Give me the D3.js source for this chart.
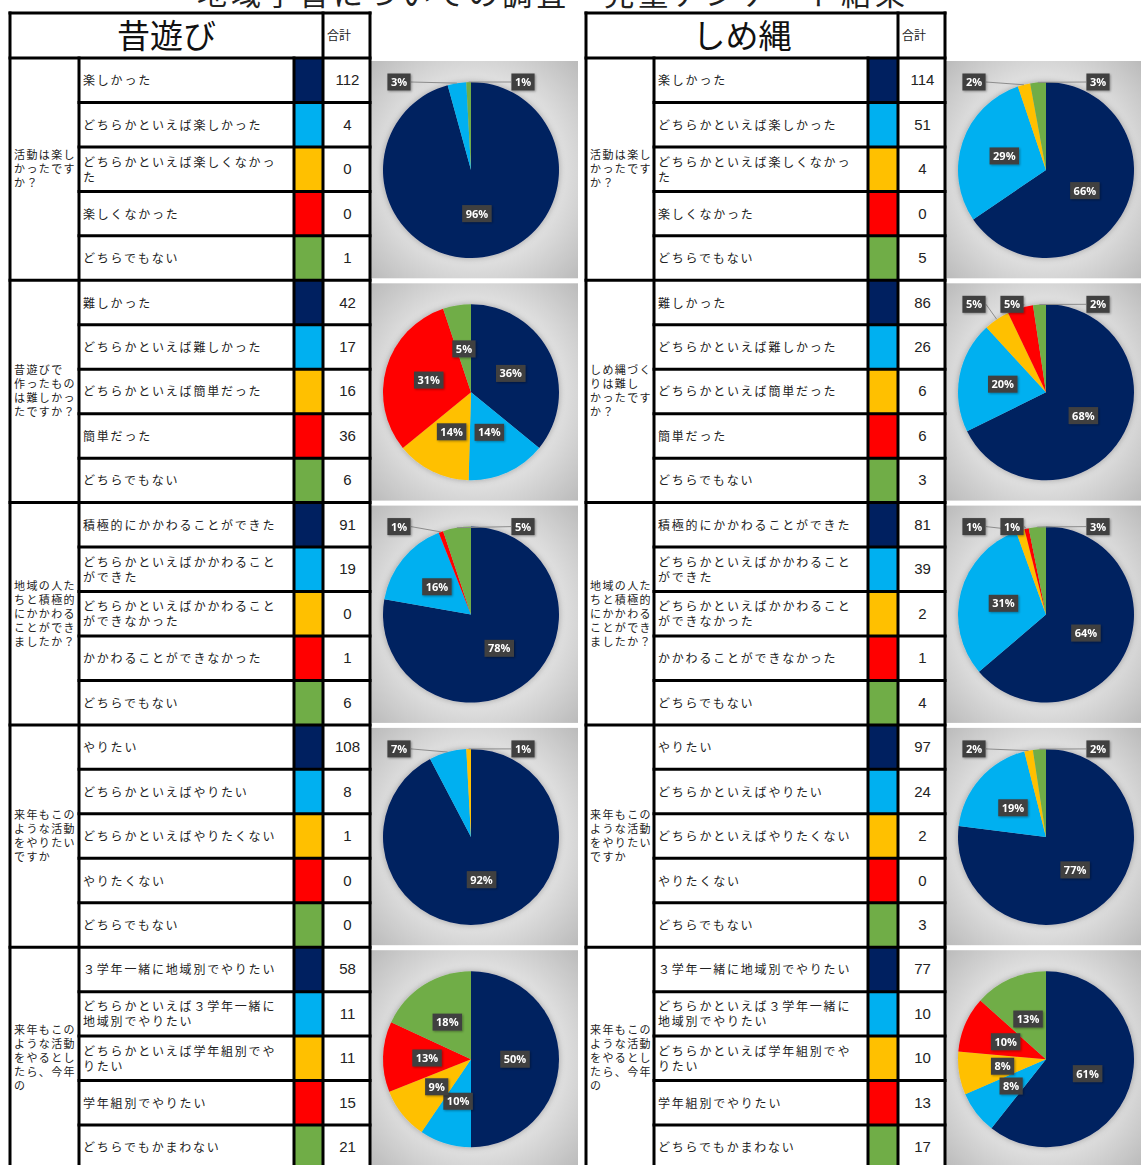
<!DOCTYPE html>
<html>
<head>
<meta charset="utf-8">
<script src="https://cdn.jsdelivr.net/npm/d3@7"></script>
<style>
  body { margin: 0; background: #fff; }
  svg { display: block; }
</style>
</head>
<body>
<div id="chart"></div>
<script>
// ---- data ----
const pageTitle = "地域学習についての調査・児童アンケート結果";
const sideTitles = ["昔遊び", "しめ縄"];
const totalHeader = "合計";
const sliceColors = ["#002060", "#00b0f0", "#ffc000", "#ff0000", "#70ad47"];

const leftQuestions = [
  "活動は楽し\nかったです\nか？",
  "昔遊びで\n作ったもの\nは難しかっ\nたですか？",
  "地域の人た\nちと積極的\nにかかわる\nことができ\nましたか？",
  "来年もこの\nような活動\nをやりたい\nですか",
  "来年もこの\nような活動\nをやるとし\nたら、今年\nの"
];
const rightQuestions = [
  "活動は楽し\nかったです\nか？",
  "しめ縄づく\nりは難し\nかったです\nか？",
  "地域の人た\nちと積極的\nにかかわる\nことができ\nましたか？",
  "来年もこの\nような活動\nをやりたい\nですか",
  "来年もこの\nような活動\nをやるとし\nたら、今年\nの"
];

const answersEnjoy = ["楽しかった", "どちらかといえば楽しかった", "どちらかといえば楽しくなかった", "楽しくなかった", "どちらでもない"];
const answersHard = ["難しかった", "どちらかといえば難しかった", "どちらかといえば簡単だった", "簡単だった", "どちらでもない"];
const answersInvolve = ["積極的にかかわることができた", "どちらかといえばかかわることができた", "どちらかといえばかかわることができなかった", "かかわることができなかった", "どちらでもない"];
const answersAgain = ["やりたい", "どちらかといえばやりたい", "どちらかといえばやりたくない", "やりたくない", "どちらでもない"];
const answersHow = ["３学年一緒に地域別でやりたい", "どちらかといえば３学年一緒に地域別でやりたい", "どちらかといえば学年組別でやりたい", "学年組別でやりたい", "どちらでもかまわない"];
const answerSets = [answersEnjoy, answersHard, answersInvolve, answersAgain, answersHow];

const leftValues = [
  [112, 4, 0, 0, 1],
  [42, 17, 16, 36, 6],
  [91, 19, 0, 1, 6],
  [108, 8, 1, 0, 0],
  [58, 11, 11, 15, 21]
];
const rightValues = [
  [114, 51, 4, 0, 5],
  [86, 26, 6, 6, 3],
  [81, 39, 2, 1, 4],
  [97, 24, 2, 0, 3],
  [77, 10, 10, 13, 17]
];
// percentages as printed on the pies
const leftPctLabels = [
  ["96%", "3%", "", "", "1%"],
  ["36%", "14%", "14%", "31%", "5%"],
  ["78%", "16%", "", "1%", "5%"],
  ["92%", "7%", "1%", "", ""],
  ["50%", "10%", "9%", "13%", "18%"]
];
const rightPctLabels = [
  ["66%", "29%", "2%", "", "3%"],
  ["68%", "20%", "5%", "5%", "2%"],
  ["64%", "31%", "1%", "1%", "3%"],
  ["77%", "19%", "2%", "", "2%"],
  ["61%", "8%", "8%", "10%", "13%"]
];

// ---- layout ----
const width = 1141, height = 1165;
const headerTop = 13, headerBottom = 58, groupH = 222.3;
const jp = "'Noto Sans CJK JP', 'Noto Sans', sans-serif";
const numFont = "'Liberation Sans Narrow', 'Liberation Sans', 'DejaVu Sans Condensed', sans-serif";

let svg = d3.select("#chart")
    .append("svg")
    .attr("width", width)
    .attr("height", height);

let defs = svg.append("defs");
let grad = defs.append("radialGradient").attr("id", "panelBg")
    .attr("cx", "50%").attr("cy", "50%").attr("r", "72%");
grad.append("stop").attr("offset", "0%").attr("stop-color", "#f4f4f4");
grad.append("stop").attr("offset", "55%").attr("stop-color", "#e3e3e3");
grad.append("stop").attr("offset", "100%").attr("stop-color", "#b9b9b9");

let shadow = defs.append("filter").attr("id", "pieShadow")
    .attr("x", "-20%").attr("y", "-20%").attr("width", "140%").attr("height", "140%");
shadow.append("feDropShadow").attr("dx", 0).attr("dy", 0)
    .attr("stdDeviation", 3).attr("flood-color", "#000").attr("flood-opacity", 0.3);

let labelShadow = defs.append("filter").attr("id", "lblShadow")
    .attr("x", "-30%").attr("y", "-30%").attr("width", "160%").attr("height", "160%");
labelShadow.append("feDropShadow").attr("dx", 1).attr("dy", 1)
    .attr("stdDeviation", 1).attr("flood-color", "#000").attr("flood-opacity", 0.35);

svg.append("text")
    .attr("x", 553)
    .attr("y", 5)
    .attr("text-anchor", "middle")
    .style("font-family", jp)
    .style("font-size", "30px")
    .style("letter-spacing", "4px")
    .attr("fill", "#222")
    .text(pageTitle);

const sides = [
  { x0: 10, qx: 79, sx: 294, vx: 323, x1: 370, panelX: 371, panelW: 207,
    title: sideTitles[0], questions: leftQuestions, values: leftValues, pct: leftPctLabels },
  { x0: 586, qx: 654, sx: 868, vx: 898, x1: 945, panelX: 946, panelW: 195,
    title: sideTitles[1], questions: rightQuestions, values: rightValues, pct: rightPctLabels }
];

let groupY = d3.scaleLinear().domain([0, 5]).range([headerBottom, headerBottom + 5 * groupH]);
let rowY = d3.scaleLinear().domain([0, 5]).range([0, groupH]);

function wrapChars(str, n) {
  let out = [];
  for (let i = 0; i < str.length; i += n) out.push(str.slice(i, i + n));
  return out;
}

sides.forEach(side => drawSide(side));

function drawSide(side) {
  let g = svg.append("g");

  // pie panels
  side.values.forEach((vals, gi) => {
    let top = groupY(gi);
    let panel = g.append("g");
    panel.append("rect")
        .attr("x", side.panelX)
        .attr("y", top + 3)
        .attr("width", side.panelW)
        .attr("height", groupH - 5)
        .attr("fill", "url(#panelBg)");
    drawPie(panel, vals, side.pct[gi], side.panelX + 100, top + 112, 88, top + 3);
  });

  // header
  g.append("text")
      .attr("x", (side.x0 + side.vx) / 2)
      .attr("y", 48)
      .attr("text-anchor", "middle")
      .style("font-family", jp)
      .style("font-size", "33px")
      .attr("fill", "#111")
      .text(side.title);
  g.append("text")
      .attr("x", side.vx + 4)
      .attr("y", 40)
      .style("font-family", jp)
      .style("font-size", "12px")
      .attr("fill", "#222")
      .text(totalHeader);

  // rows
  side.values.forEach((vals, gi) => {
    let top = groupY(gi);
    let qLines = side.questions[gi].split("\n");
    let qMid = top + groupH / 2;
    g.append("text")
        .attr("x", side.x0 + 4)
        .attr("y", qMid - (qLines.length - 1) * 7 + 4)
        .style("font-family", jp)
        .style("font-size", "11px")
        .style("letter-spacing", "1.4px")
        .attr("fill", "#222")
        .selectAll("tspan")
        .data(qLines)
        .enter()
        .append("tspan")
        .attr("x", side.x0 + 4)
        .attr("dy", (d, i) => i === 0 ? 0 : 14)
        .text(d => d);

    vals.forEach((v, ri) => {
      let y0 = top + rowY(ri), y1 = top + rowY(ri + 1);
      let mid = (y0 + y1) / 2;
      g.append("rect")
          .attr("x", side.sx)
          .attr("y", y0)
          .attr("width", side.vx - side.sx)
          .attr("height", y1 - y0)
          .attr("fill", sliceColors[ri]);

      let lines = wrapChars(answerSets[gi][ri], 14);
      g.append("text")
          .attr("x", side.qx + 4)
          .attr("y", mid - (lines.length - 1) * 7.5 + 5)
          .style("font-family", jp)
          .style("font-size", "12px")
          .style("letter-spacing", "1.8px")
          .attr("fill", "#222")
          .selectAll("tspan")
          .data(lines)
          .enter()
          .append("tspan")
          .attr("x", side.qx + 4)
          .attr("dy", (d, i) => i === 0 ? 0 : 15)
          .text(d => d);

      g.append("text")
          .attr("x", (side.vx + side.x1) / 2 + 1)
          .attr("y", mid + 5)
          .attr("text-anchor", "middle")
          .style("font-family", numFont)
          .style("font-size", "15px")
          .attr("fill", "#222")
          .text(v);
    });
  });

  // grid lines
  let bottom = height + 10;
  let lines = [];
  lines.push([side.x0, headerTop, side.x1, headerTop]);
  lines.push([side.x0, headerTop, side.x0, bottom]);
  lines.push([side.x1, headerTop, side.x1, bottom]);
  lines.push([side.vx, headerTop, side.vx, bottom]);
  lines.push([side.qx, headerBottom, side.qx, bottom]);
  lines.push([side.sx, headerBottom, side.sx, bottom]);
  for (let gi = 0; gi < 5; gi++) {
    let top = groupY(gi);
    lines.push([side.x0, top, side.x1, top]);
    for (let ri = 1; ri < 5; ri++) {
      lines.push([side.qx, top + rowY(ri), side.x1, top + rowY(ri)]);
    }
  }
  g.selectAll("line.grid")
      .data(lines)
      .enter()
      .append("line")
      .attr("class", "grid")
      .attr("x1", d => d[0]).attr("y1", d => d[1])
      .attr("x2", d => d[2]).attr("y2", d => d[3])
      .attr("stroke", "#000")
      .attr("stroke-width", 3)
      .attr("stroke-linecap", "square");
}

function drawPie(panel, vals, pctLabels, cx, cy, r, panelTop) {
  let total = d3.sum(vals);
  let pie = d3.pie().sort(null).value(d => d.v);
  let arcs = pie(vals.map((v, i) => ({ v: v, i: i, label: pctLabels[i] })));
  let arc = d3.arc().innerRadius(0).outerRadius(r);

  let pg = panel.append("g").attr("transform", `translate(${cx},${cy})`);
  pg.append("g")
      .attr("filter", "url(#pieShadow)")
      .selectAll("path")
      .data(arcs)
      .enter()
      .append("path")
      .attr("d", arc)
      .attr("fill", d => sliceColors[d.data.i]);

  // decide which labels sit inside
  let nz = arcs.filter(a => a.data.v > 0);
  nz.forEach((a, k) => {
    let frac = a.data.v / total;
    let prev = nz[(k - 1 + nz.length) % nz.length].data.v / total;
    let next = nz[(k + 1) % nz.length].data.v / total;
    a.outside = frac < 0.05 || (frac < 0.08 && (prev < 0.05 || next < 0.05));
  });
  let outs = nz.filter(a => a.outside);

  function box(x, y, text) {
    let lg = pg.append("g").attr("filter", "url(#lblShadow)");
    let rect = lg.append("rect").attr("fill", "#404040");
    let t = lg.append("text")
        .attr("x", x)
        .attr("y", y + 4)
        .attr("text-anchor", "middle")
        .style("font-family", "'Open Sans', 'Liberation Sans', sans-serif")
        .style("font-size", "11px")
        .style("font-weight", "bold")
        .attr("fill", "#fff")
        .text(text);
    let w = t.node().getComputedTextLength() + 7;
    rect.attr("x", x - w / 2).attr("y", y - 8.5).attr("width", w).attr("height", 17);
    return w;
  }

  nz.filter(a => !a.outside).forEach(a => {
    let c = arc.centroid(a);
    box(c[0], c[1], a.data.label);
  });

  let ly = panelTop + 21 - cy;
  let leftCount = 0;
  outs.forEach((a, k) => {
    let lx = (k === outs.length - 1) ? 52 : -72 + leftCount++ * 38;
    let midA = (a.startAngle + a.endAngle) / 2;
    let px = Math.sin(midA) * r, py = -Math.cos(midA) * r;
    let w = 24;
    let sx = lx < px ? lx + w / 2 : lx - w / 2;
    pg.append("line")
        .attr("x1", sx).attr("y1", ly)
        .attr("x2", px).attr("y2", py)
        .attr("stroke", "#8c8c8c")
        .attr("stroke-width", 1);
    box(lx, ly, a.data.label);
  });
}
</script>
</body>
</html>
